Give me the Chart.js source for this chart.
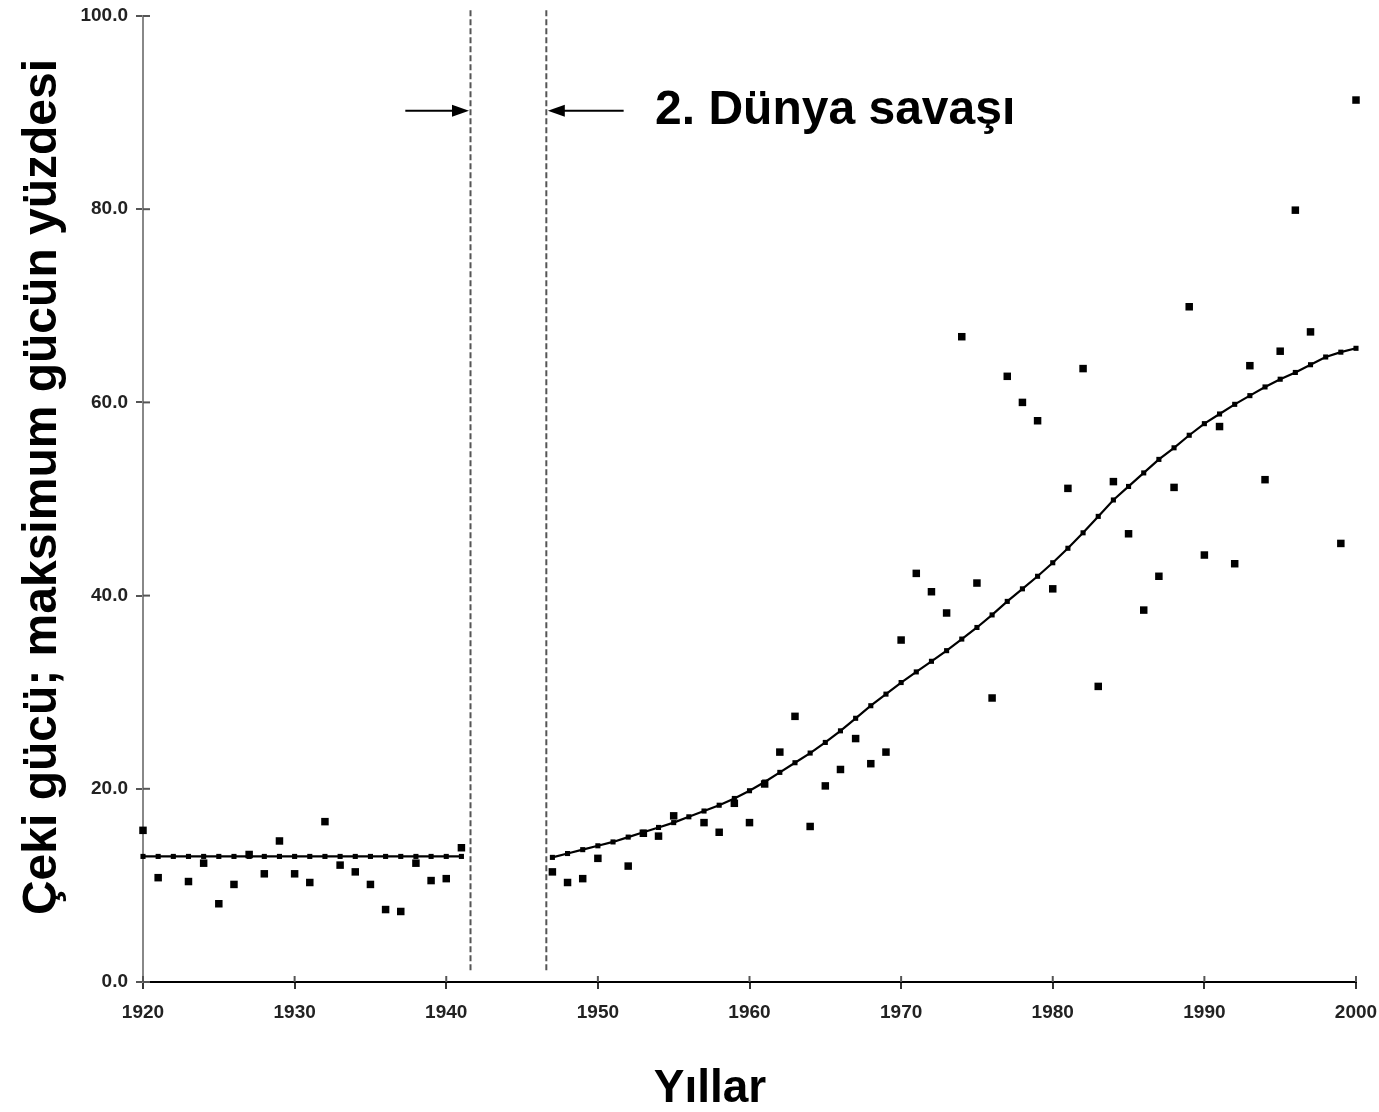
<!DOCTYPE html>
<html><head><meta charset="utf-8">
<script src="https://cdn.jsdelivr.net/npm/chart.js@4.4.0/dist/chart.umd.min.js"></script>
<style>html,body{margin:0;padding:0;background:#fff}canvas{display:block}</style>
</head><body>
<canvas id="c" width="1379" height="1112"></canvas>
<script>
// ---- data ----
const xTickLabels = ['1920','1930','1940','1950','1960','1970','1980','1990','2000'];
const yTickLabels = ['0.0','20.0','40.0','60.0','80.0','100.0'];

const obsYears = [1920,1921,1923,1924,1925,1926,1927,1928,1929,1930,1931,1932,1933,1934,1935,1936,1937,1938,1939,1940,1941,
  1947,1948,1949,1950,1952,1953,1954,1955,1957,1958,1959,1960,1961,1962,1963,1964,1965,1966,1967,1968,1969,
  1970,1971,1972,1973,1974,1975,1976,1977,1978,1979,1980,1981,1982,1983,1984,1985,1986,1987,1988,1989,
  1990,1991,1992,1993,1994,1995,1996,1997,1999,2000];
const obsValues = [15.7,10.8,10.4,12.3,8.1,10.1,13.2,11.2,14.6,11.2,10.3,16.6,12.1,11.4,10.1,7.5,7.3,12.3,10.5,10.7,13.9,
  11.4,10.3,10.7,12.8,12.0,15.4,15.1,17.2,16.5,15.5,18.5,16.5,20.5,23.8,27.5,16.1,20.3,22.0,25.2,22.6,23.8,
  35.4,42.3,40.4,38.2,66.8,41.3,29.4,62.7,60.0,58.1,40.7,51.1,63.5,30.6,51.8,46.4,38.5,42.0,51.2,69.9,
  44.2,57.5,43.3,63.8,52.0,65.3,79.9,67.3,45.4,91.3];

const trendPreYears = [1920,1921,1922,1923,1924,1925,1926,1927,1928,1929,1930,1931,1932,1933,1934,1935,1936,1937,1938,1939,1940,1941];
const trendPreValues = [13.0,13.0,13.0,13.0,13.0,13.0,13.0,13.0,13.0,13.0,13.0,13.0,13.0,13.0,13.0,13.0,13.0,13.0,13.0,13.0,13.0,13.0];

const trendPostYears = [1947,1948,1949,1950,1951,1952,1953,1954,1955,1956,1957,1958,1959,1960,1961,1962,1963,1964,1965,1966,1967,1968,1969,
  1970,1971,1972,1973,1974,1975,1976,1977,1978,1979,1980,1981,1982,1983,1984,1985,1986,1987,1988,1989,
  1990,1991,1992,1993,1994,1995,1996,1997,1998,1999,2000];
const trendPostValues = [12.9,13.3,13.7,14.1,14.5,15.0,15.5,16.0,16.5,17.1,17.7,18.3,19.0,19.8,20.7,21.7,22.7,23.7,24.8,26.0,27.3,28.6,29.8,
  31.0,32.1,33.2,34.3,35.5,36.7,38.0,39.4,40.7,42.0,43.4,44.9,46.5,48.2,49.9,51.3,52.7,54.1,55.3,56.6,
  57.8,58.8,59.8,60.7,61.6,62.4,63.1,63.9,64.7,65.2,65.6];

const warBounds = [1941.6, 1946.6];
const warLabel = '2. Dünya savaşı';
const xTitle = 'Yıllar';
const yTitle = 'Çeki gücü; maksimum gücün yüzdesi';

// ---- helpers ----
const pts = (xs, ys) => xs.map((v, i) => ({x: v, y: ys[i]}));
const tickFont = {family: "'Liberation Sans Narrow','Liberation Sans',Arial,sans-serif", size: 19, weight: 'bold'};
const titleFamily = "'Liberation Sans', Arial, sans-serif";

const annot = {
  id: 'annot',
  afterDraw(chart) {
    const {ctx, scales: {x, y}} = chart;
    ctx.save();
    // inner tick marks crossing the axes
    ctx.strokeStyle = '#555'; ctx.lineWidth = 2;
    y.ticks.forEach(t => { const py = y.getPixelForValue(t.value); ctx.beginPath(); ctx.moveTo(x.left, py); ctx.lineTo(x.left + 7, py); ctx.stroke(); });
    x.ticks.forEach(t => { const px = x.getPixelForValue(t.value); ctx.beginPath(); ctx.moveTo(px, y.bottom); ctx.lineTo(px, y.bottom - 6); ctx.stroke(); });
    // dashed war boundaries
    ctx.strokeStyle = '#555'; ctx.lineWidth = 2; ctx.setLineDash([6, 3]);
    warBounds.forEach(v => {
      const px = x.getPixelForValue(v);
      ctx.beginPath(); ctx.moveTo(px, y.getPixelForValue(100.6)); ctx.lineTo(px, y.getPixelForValue(0.9)); ctx.stroke();
    });
    ctx.setLineDash([]);
    // arrows
    const ay = y.getPixelForValue(90.2);
    const arrow = (fromV, toV) => {
      const x0 = x.getPixelForValue(fromV), x1 = x.getPixelForValue(toV);
      const dir = Math.sign(x1 - x0);
      ctx.strokeStyle = '#000'; ctx.fillStyle = '#000'; ctx.lineWidth = 2;
      ctx.beginPath(); ctx.moveTo(x0, ay); ctx.lineTo(x1 - dir * 10, ay); ctx.stroke();
      ctx.beginPath(); ctx.moveTo(x1, ay); ctx.lineTo(x1 - dir * 17, ay - 6); ctx.lineTo(x1 - dir * 17, ay + 6); ctx.closePath(); ctx.fill();
    };
    arrow(1937.3, warBounds[0] - 0.1);
    arrow(1951.7, warBounds[1] + 0.1);
    // annotation label
    ctx.fillStyle = '#000';
    ctx.font = "bold 48px " + titleFamily;
    ctx.textAlign = 'left'; ctx.textBaseline = 'middle';
    ctx.fillText(warLabel, x.getPixelForValue(1953.77), ay);
    // axis titles
    ctx.font = "bold 46px " + titleFamily;
    ctx.textAlign = 'center'; ctx.textBaseline = 'middle';
    ctx.fillText(xTitle, 710, 1089);
    ctx.save();
    ctx.translate(43, 487);
    ctx.rotate(-Math.PI / 2);
    ctx.font = "bold 48px " + titleFamily;
    ctx.fillText(yTitle, 0, 0);
    ctx.restore();
    ctx.restore();
  }
};

new Chart(document.getElementById('c'), {
  data: {
    datasets: [
      {type: 'scatter', label: 'Gözlem', data: pts(obsYears, obsValues), pointStyle: 'rect', pointRadius: 5.3,
        backgroundColor: '#000', borderColor: '#000', borderWidth: 0, clip: 12},
      {type: 'line', label: 'Eğilim 1', data: pts(trendPreYears, trendPreValues), borderColor: '#000', borderWidth: 2.2,
        pointStyle: 'rect', pointRadius: 3.6, backgroundColor: '#000', pointBorderWidth: 0, tension: 0, fill: false, clip: 12},
      {type: 'line', label: 'Eğilim 2', data: pts(trendPostYears, trendPostValues), borderColor: '#000', borderWidth: 2.2,
        pointStyle: 'rect', pointRadius: 3.6, backgroundColor: '#000', pointBorderWidth: 0, tension: 0, fill: false, clip: 12}
    ]
  },
  options: {
    responsive: false, animation: false, devicePixelRatio: 1,
    layout: {padding: {left: 0, right: 23, top: 16, bottom: 0}},
    plugins: {legend: {display: false}, tooltip: {enabled: false}},
    scales: {
      x: {
        type: 'linear', min: 1920, max: 2000,
        afterBuildTicks: s => { s.ticks = xTickLabels.map(v => ({value: Number(v)})); },
        afterFit: s => { s.height = 130; s.paddingLeft = 0; s.paddingRight = 0; },
        ticks: {callback: (v) => String(v), font: tickFont, color: '#222', padding: 12, maxRotation: 0},
        grid: {display: true, drawOnChartArea: false, drawTicks: true, tickLength: 7, color: '#333', lineWidth: 2},
        border: {display: true, color: '#000', width: 2},
        title: {display: false, text: xTitle}
      },
      y: {
        type: 'linear', min: 0, max: 100,
        afterBuildTicks: s => { s.ticks = yTickLabels.map(v => ({value: Number(v)})); },
        afterFit: s => { s.width = 143; s.paddingTop = 0; s.paddingBottom = 0; },
        ticks: {callback: (v) => Number(v).toFixed(1), font: tickFont, color: '#222', padding: 8},
        grid: {display: true, drawOnChartArea: false, drawTicks: true, tickLength: 7, color: '#555', lineWidth: 2},
        border: {display: true, color: '#888', width: 2},
        title: {display: false, text: yTitle}
      }
    }
  },
  plugins: [annot]
});
</script>
</body></html>
